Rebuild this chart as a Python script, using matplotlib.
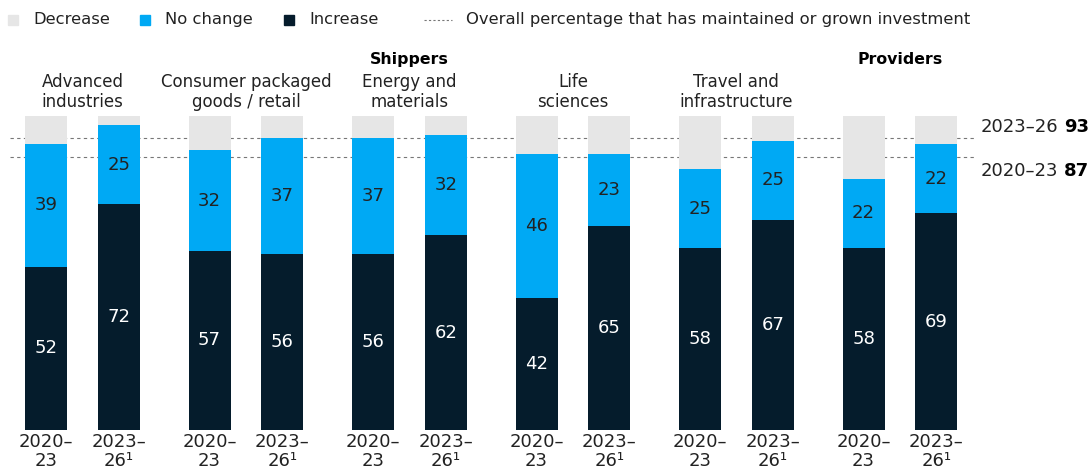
import numpy as np
import matplotlib.pyplot as plt

groups = ["Advanced\nindustries", "Consumer packaged\ngoods / retail", "Energy and\nmaterials",
          "Life\nsciences", "Travel and\ninfrastructure", ""]
periods = ["2020–\n23", "2023–\n26¹"]
increase = [52, 72, 57, 56, 56, 62, 42, 65, 58, 67, 58, 69]
no_change = [39, 25, 32, 37, 37, 32, 46, 23, 25, 25, 22, 22]
decrease = [100 - a - b for a, b in zip(increase, no_change)]
overall = {"2023–26": 93, "2020–23": 87}

c_dec = "#e6e6e6"
c_nc = "#00a9f4"
c_inc = "#051c2c"
txt = "#222222"

fig = plt.figure(figsize=(10.92, 4.68), dpi=100)
ax = fig.add_axes([0, 0, 1, 1])
ax.set_xlim(0, 1092)
ax.set_ylim(-12.1, 136.9)
ax.axis("off")

# bar positions (pixel-like x units)
x = np.array([46 + 163.5 * (i // 2) + 72.8 * (i % 2) for i in range(12)])
w = 42

ax.bar(x, increase, w, color=c_inc, zorder=2)
ax.bar(x, no_change, w, bottom=increase, color=c_nc, zorder=2)
ax.bar(x, decrease, w, bottom=np.array(increase) + np.array(no_change), color=c_dec, zorder=2)

for xi, a, b in zip(x, increase, no_change):
    ax.text(xi, a / 2, str(a), ha="center", va="center", color="white", fontsize=13, zorder=3)
    ax.text(xi, a + b / 2, str(b), ha="center", va="center", color=txt, fontsize=13, zorder=3)

for i, xi in enumerate(x):
    ax.text(xi, -6.8, periods[i % 2], ha="center", va="center", color=txt, fontsize=13,
            linespacing=1.1)

# group labels
for g, name in enumerate(groups):
    xc = (x[2 * g] + x[2 * g + 1]) / 2
    ax.text(xc, 107.6, name, ha="center", va="center", color=txt, fontsize=12,
            linespacing=1.15)
ax.text((x[4] + x[5]) / 2, 117.8, "Shippers", ha="center", va="center", color="black",
        fontsize=11.3, fontweight="bold")
ax.text((x[10] + x[11]) / 2, 117.8, "Providers", ha="center", va="center", color="black",
        fontsize=11.3, fontweight="bold")

# overall lines
for (lab, v), ty in zip(overall.items(), [96.5, 82.5]):
    ax.plot([10, 975], [v, v], ls=(0, (3, 3)), color="#777777", lw=0.8, zorder=1)
    ax.text(1089, ty, str(v), ha="right", va="center", fontsize=13, fontweight="bold", color="black")
    ax.text(1058, ty, lab, ha="right", va="center", fontsize=13, color=txt)

# legend
ly = 130.6
items = [("Decrease", c_dec, 8), ("No change", c_nc, 140), ("Increase", c_inc, 284)]
for lab, col, lx in items:
    ax.add_patch(plt.Rectangle((lx, ly - 1.6), 10, 3.2, color=col, clip_on=False))
    ax.text(lx + 25, ly, lab, ha="left", va="center", fontsize=11.8, color=txt)
ax.plot([424, 452], [ly, ly], ls=(0, (2, 2)), color="#777777", lw=0.8)
ax.text(466, ly, "Overall percentage that has maintained or grown investment", ha="left",
        va="center", fontsize=11.8, color=txt)

fig.savefig("out.png", dpi=100)
